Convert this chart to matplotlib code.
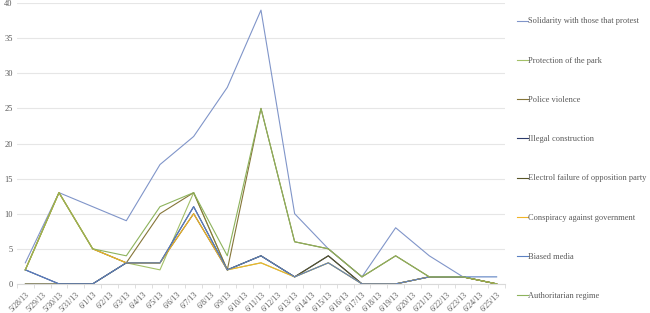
import matplotlib
matplotlib.use("Agg")
import numpy as np
import matplotlib.pyplot as plt

plt.rcParams["font.family"] = ["Liberation Serif", "DejaVu Serif"]

# category labels (one per day)
dates = ["5/28/13", "5/29/13", "5/30/13", "5/31/13", "6/1/13", "6/2/13", "6/3/13",
         "6/4/13", "6/5/13", "6/6/13", "6/7/13", "6/8/13", "6/9/13", "6/10/13",
         "6/11/13", "6/12/13", "6/13/13", "6/14/13", "6/15/13", "6/16/13", "6/17/13",
         "6/18/13", "6/19/13", "6/20/13", "6/21/13", "6/22/13", "6/23/13", "6/24/13",
         "6/25/13"]

# observations only every second day
obs_dates = dates[::2]

solidarity = [3, 13, 11, 9, 17, 21, 28, 39, 10, 5, 1, 8, 4, 1, 0]
protection = [2, 13, 5, 3, 2, 13, 2, 3, 1, 3, 0, 0, 1, 1, 0]
police = [2, 13, 5, 3, 10, 13, 2, 25, 6, 5, 1, 4, 1, 1, 0]
illegal = [2, 0, 0, 3, 3, 11, 2, 4, 1, 4, 0, 0, 1, 1, 0]
electrol = [0, 0, 0, 3, 3, 10, 2, 4, 1, 4, 0, 0, 1, 1, 0]
conspiracy = [2, 13, 5, 3, 3, 10, 2, 3, 1, 3, 0, 0, 1, 1, 0]
biased = [2, 0, 0, 3, 3, 11, 2, 4, 1, 3, 0, 0, 1, 1, 1]
authoritarian = [2, 13, 5, 4, 11, 13, 4, 25, 6, 5, 1, 4, 1, 1, 0]

series = [
    ("Solidarity with those that protest", solidarity, "#8095c9"),
    ("Protection of the park", protection, "#a3c068"),
    ("Police violence", police, "#857538"),
    ("Illegal construction", illegal, "#2d3b6b"),
    ("Electrol failure of opposition party", electrol, "#595628"),
    ("Conspiracy against government", conspiracy, "#f0b428"),
    ("Biased media", biased, "#5b80c2"),
    ("Authoritarian regime", authoritarian, "#8db35c"),
]

fig = plt.figure(figsize=(6.5, 3.13), dpi=100)
ax = fig.add_axes([0.026, 0.093, 0.751, 0.897])

x = np.array([dates.index(d) for d in obs_dates])
handles = []
for name, vals, col in series:
    h, = ax.plot(x, vals, color=col, lw=0.8, label=name)
    handles.append(h)

ax.set_xlim(-0.5, len(dates) - 0.5)
ax.set_ylim(0, 40)
ax.set_yticks(range(0, 41, 5))
ax.set_xticks(range(len(dates)))
ax.set_xticklabels(dates, rotation=45, ha="right", rotation_mode="anchor")
ax.set_xticks(np.arange(-0.5, len(dates), 1), minor=True)
ax.tick_params(axis="x", which="major", length=0, pad=5, labelsize=5.7, colors="#595959")
ax.tick_params(axis="x", which="minor", length=3, color="#d9d9d9")
ax.tick_params(axis="y", length=0, pad=3, labelsize=6, colors="#595959")

ax.grid(axis="y", color="#e6e6e6", lw=0.8)
ax.set_axisbelow(True)
for s in ["top", "right", "left"]:
    ax.spines[s].set_visible(False)
ax.spines["bottom"].set_color("#d9d9d9")

leg = fig.legend(handles=handles, loc="upper left", bbox_to_anchor=(0.79, 0.955),
                 frameon=False, fontsize=6.0, handlelength=1.3, handletextpad=0.1,
                 labelspacing=3.75, labelcolor="#595959", borderaxespad=0)

fig.savefig("out.png", dpi=100)
